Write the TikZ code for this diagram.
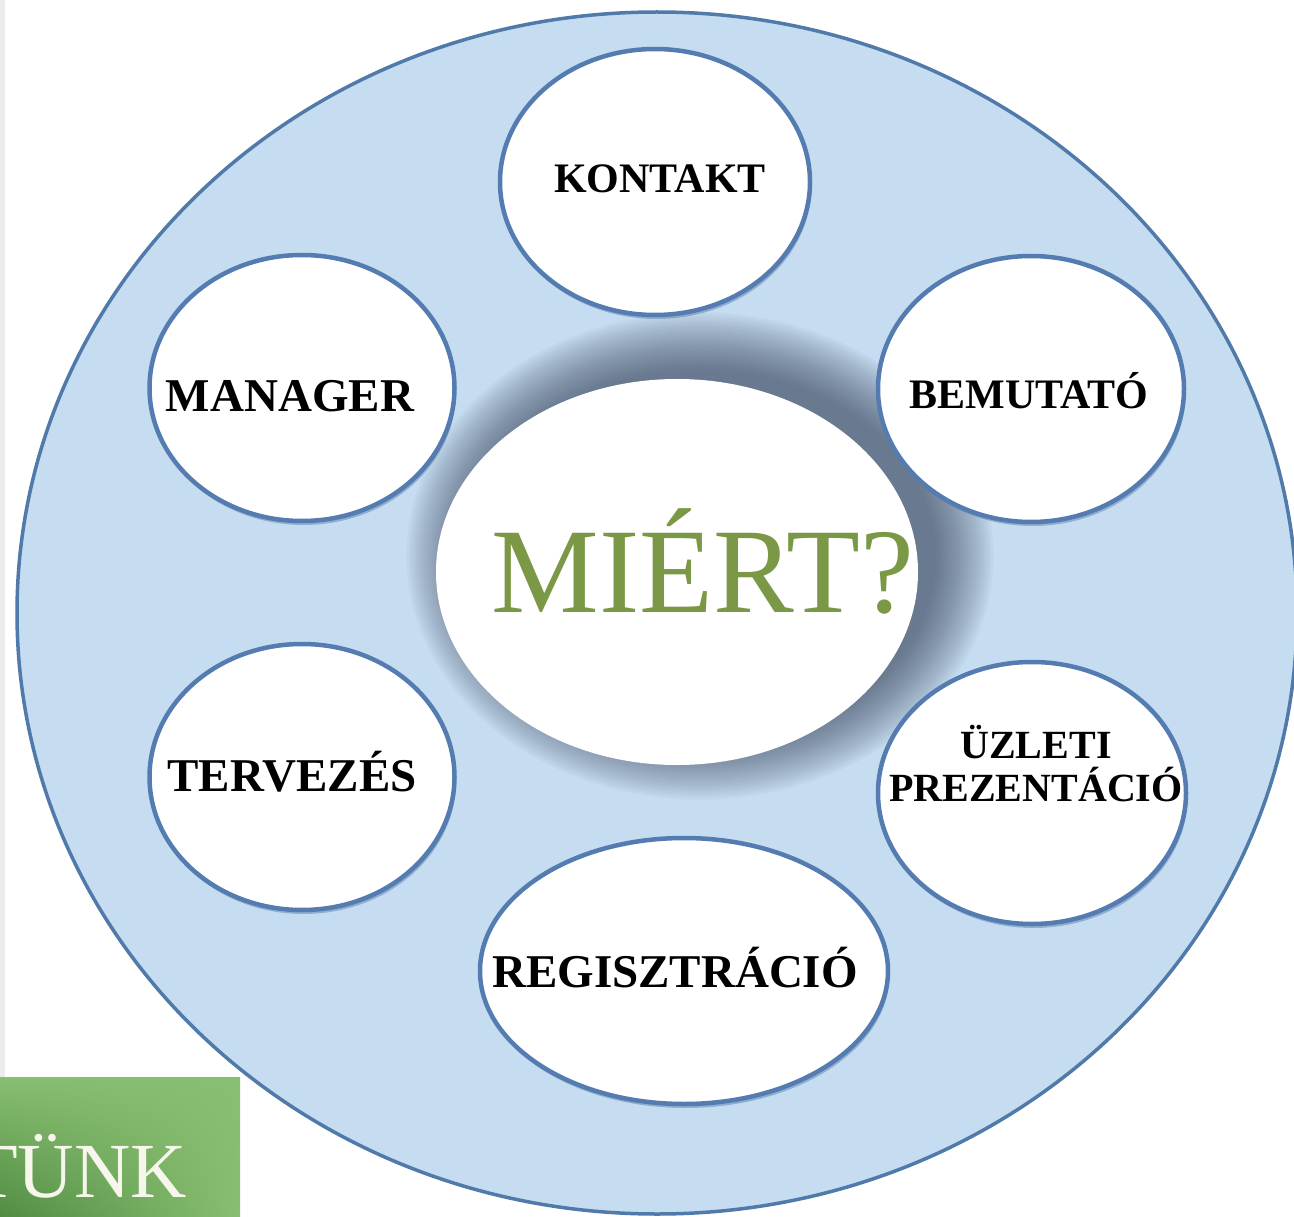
\documentclass[tikz,border=0pt]{standalone}
\usepackage{fontspec}
\setmainfont{Liberation Serif}
\usetikzlibrary{shapes.geometric,shadows,shadings}
\definecolor{ringfill}{RGB}{198,220,240}
\definecolor{ringline}{RGB}{80,122,170}
\definecolor{bubline}{RGB}{84,124,176}
\definecolor{glowc}{RGB}{55,68,90}
\definecolor{miert}{RGB}{122,152,70}
\definecolor{boxgreen}{RGB}{136,190,113}
\definecolor{boxdark}{RGB}{80,140,66}
\definecolor{tunkc}{RGB}{246,246,236}
\definecolor{stripc}{RGB}{236,236,236}
\begin{document}
\begin{tikzpicture}[x=1pt,y=-1pt,
  bubble/.style={ellipse, draw=bubline, line width=4.5pt, fill=white, inner sep=0pt,
    drop shadow={shadow xshift=1.5pt, shadow yshift=-4pt, opacity=0.45, fill=ringline}},
  lbl/.style={text=black, inner sep=0pt, anchor=base, align=center},
]
\useasboundingbox (0,0) rectangle (1294,1217);
\clip (0,0) rectangle (1294,1217);
\fill[white] (0,0) rectangle (1294,1217);
\fill[stripc] (0,0) rectangle (5,1077);
% big ring
\node[ellipse, draw=ringline, line width=3.5pt, fill=ringfill, inner sep=0pt,
      minimum width=1280pt, minimum height=1202pt] (ring) at (657,613) {};
% glow around the centre, stronger towards the upper right
\foreach \k in {0,...,24}{
  \pgfmathsetmacro\rx{236+2.4*\k}
  \pgfmathsetmacro\ry{186+2.4*\k}
  \fill[glowc, opacity=0.034] (700,556) ellipse [x radius=\rx pt, y radius=\ry pt];
}
% bubbles
\node[bubble, minimum width=310pt, minimum height=266pt] (kontakt) at (655,182) {};
\node[bubble, minimum width=305pt, minimum height=266pt] (manager) at (302,388) {};
\node[bubble, minimum width=306pt, minimum height=266pt] (bemutato) at (1031,389) {};
\node[bubble, minimum width=305pt, minimum height=266pt] (tervezes) at (302,777) {};
\node[bubble, minimum width=308pt, minimum height=262pt] (uzleti) at (1032,793) {};
\node[bubble, minimum width=408pt, minimum height=266pt] (regisztracio) at (684,971) {};
% centre
\node[ellipse, fill=white, inner sep=0pt, minimum width=482pt, minimum height=386pt] (center) at (677,572) {};
% labels
\node[lbl, font=\bfseries\fontsize{42}{46}\selectfont] (kontakt-t) at (660,193) {KONTAKT};
\node[lbl, font=\bfseries\fontsize{47}{50}\selectfont] (manager-t) at (290,411) {MANAGER};
\node[lbl, font=\bfseries\fontsize{42}{46}\selectfont] (bemutato-t) at (1029,408) {BEMUTATÓ};
\node[lbl, font=\bfseries\fontsize{47}{50}\selectfont] (tervezes-t) at (292,791) {TERVEZÉS};
\node[lbl, font=\bfseries\fontsize{40}{43}\selectfont] (uzleti-t) at (1036,801) {ÜZLETI\\PREZENTÁCIÓ};
\node[lbl, font=\bfseries\fontsize{47}{50}\selectfont] (regisztracio-t) at (675,987) {REGISZTRÁCIÓ};
\node[lbl, text=miert, font=\fontsize{121}{124}\selectfont] (miert-t) at (703,612) {MIÉRT?};
% green box
\shade[lower left=boxdark, upper left=boxgreen, upper right=boxgreen, lower right=boxgreen]
  (0,1077) rectangle (240,1217);
\node[inner sep=0pt, anchor=base east, text=tunkc, font=\fontsize{78}{80}\selectfont] (tunk) at (187,1197) {TÜNK};
\end{tikzpicture}
\end{document}
